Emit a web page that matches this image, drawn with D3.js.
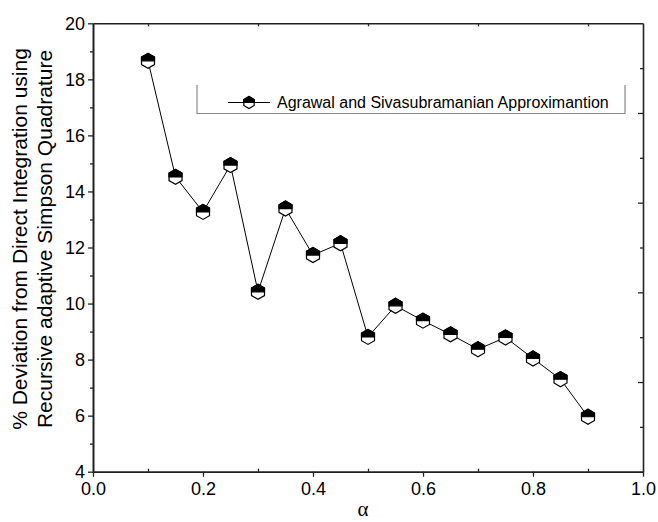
<!DOCTYPE html>
<html>
<head>
<meta charset="utf-8">
<script src="https://cdn.jsdelivr.net/npm/d3@7"></script>
<style>
  html, body { margin: 0; padding: 0; background: #fff; }
  svg { display: block; font-family: "Liberation Sans", Arial, sans-serif; }
</style>
</head>
<body>
<svg class="chart" width="658" height="522"></svg>
<script>
// data
const alphas = [0.1, 0.15, 0.2, 0.25, 0.3, 0.35, 0.4, 0.45, 0.5, 0.55, 0.6, 0.65, 0.7, 0.75, 0.8, 0.85, 0.9];
const deviations = [18.66, 14.52, 13.27, 14.94, 10.42, 13.39, 11.73, 12.15, 8.81, 9.92, 9.39, 8.9, 8.37, 8.79, 8.04, 7.3, 5.96];
const xTicks = [0, 0.2, 0.4, 0.6, 0.8, 1.0];
const xMinor = [0.1, 0.3, 0.5, 0.7, 0.9];
const yTicks = [4, 6, 8, 10, 12, 14, 16, 18, 20];
const yMinor = [5, 7, 9, 11, 13, 15, 17, 19];
const rightTicks = [0.1, 0.2, 0.3, 0.4, 0.5, 0.6, 0.7, 0.8, 0.9];
const seriesName = 'Agrawal and Sivasubramanian Approximantion';
const yLabel = ['% Deviation from Direct Integration using', 'Recursive adaptive Simpson Quadrature'];

const svg = d3.select('.chart');
const x = d3.scaleLinear().domain([0, 1]).range([93, 643]);
const y = d3.scaleLinear().domain([4, 20]).range([471.7, 23.3]);
const yRight = d3.scaleLinear().domain([0, 1]).range([471.7, 23.3]);

const axisColor = '#222';

function styleAxis(g, labels) {
  g.select('.domain').attr('stroke', axisColor).attr('stroke-width', 1.6);
  g.selectAll('.tick line').attr('stroke', axisColor).attr('stroke-width', 1.3);
  g.selectAll('.tick text')
    .attr('fill', '#000')
    .style('font-size', labels ? '18px' : '0px')
    .style('font-family', '"Liberation Sans", Arial, sans-serif');
}

// bottom axis
svg.append('g')
  .attr('transform', `translate(0,${y(4)})`)
  .call(d3.axisBottom(x).tickValues(xTicks).tickFormat(d3.format('.1f')).tickSizeInner(5).tickSizeOuter(0).tickPadding(6))
  .call(g => styleAxis(g, true));
svg.append('g')
  .attr('transform', `translate(0,${y(4)})`)
  .call(d3.axisBottom(x).tickValues(xMinor).tickFormat('').tickSizeInner(-3).tickSizeOuter(0))
  .call(g => styleAxis(g, false));

// top axis
svg.append('g')
  .attr('transform', `translate(0,${y(20)})`)
  .call(d3.axisTop(x).tickValues(xMinor).tickFormat('').tickSizeInner(-3).tickSizeOuter(0))
  .call(g => styleAxis(g, false));

// left axis
svg.append('g')
  .attr('transform', `translate(${x(0)},0)`)
  .call(d3.axisLeft(y).tickValues(yTicks).tickSizeInner(5).tickSizeOuter(0).tickPadding(3))
  .call(g => styleAxis(g, true));
svg.append('g')
  .attr('transform', `translate(${x(0)},0)`)
  .call(d3.axisLeft(y).tickValues(yMinor).tickFormat('').tickSizeInner(3).tickSizeOuter(0))
  .call(g => styleAxis(g, false));

// right axis (its own 10 divisions)
svg.append('g')
  .attr('transform', `translate(${x(1)},0)`)
  .call(d3.axisRight(yRight).tickValues(rightTicks).tickFormat('').tickSizeInner(-4).tickSizeOuter(0))
  .call(g => styleAxis(g, false))
  .call(g => g.selectAll('.tick line').attr('x2', (d, i) => (i % 2 ? -5 : -3)));

// axis titles
const yTitle = svg.append('text')
  .attr('transform', 'translate(27,239) rotate(-90)')
  .attr('text-anchor', 'middle')
  .style('font-size', '21px');
yTitle.selectAll('tspan')
  .data(yLabel)
  .enter()
  .append('tspan')
  .attr('x', 0)
  .attr('dy', (d, i) => (i === 0 ? 0 : 25))
  .text(d => d);

svg.append('text')
  .attr('x', 363)
  .attr('y', 516)
  .attr('text-anchor', 'middle')
  .style('font-family', '"Liberation Serif", "Times New Roman", serif')
  .style('font-size', '21px')
  .text('α');

// series
const points = alphas.map((a, i) => ({ a, v: deviations[i] }));

svg.append('path')
  .datum(points)
  .attr('fill', 'none')
  .attr('stroke', '#000')
  .attr('stroke-width', 1)
  .attr('d', d3.line().x(d => x(d.a)).y(d => y(d.v)));

function hexagon(r) {
  const c = r * Math.cos(Math.PI / 6);
  return {
    full: [[0, -r], [c, -r / 2], [c, r / 2], [0, r], [-c, r / 2], [-c, -r / 2]],
    top: [[-c, 0], [-c, -r / 2], [0, -r], [c, -r / 2], [c, 0]],
  };
}

function drawMarker(sel, r) {
  const h = hexagon(r);
  sel.append('polygon')
    .attr('points', h.full.map(p => p.join(',')).join(' '))
    .attr('fill', '#fff')
    .attr('stroke', '#000')
    .attr('stroke-width', 1.2);
  sel.append('polygon')
    .attr('points', h.top.map(p => p.join(',')).join(' '))
    .attr('fill', '#000')
    .attr('stroke', '#000')
    .attr('stroke-width', 1.2);
}

svg.append('g').selectAll('g')
  .data(points)
  .enter()
  .append('g')
  .attr('transform', d => `translate(${x(d.a)},${y(d.v)})`)
  .each(function () { drawMarker(d3.select(this), 7.5); });

// legend (box open at the top, as in the original)
const legend = svg.append('g');
legend.append('path')
  .attr('d', 'M197,85V113.5H625V85')
  .attr('fill', 'none')
  .attr('stroke', '#888')
  .attr('stroke-width', 1.2);
legend.append('line')
  .attr('x1', 228).attr('x2', 270)
  .attr('y1', 102.5).attr('y2', 102.5)
  .attr('stroke', '#000')
  .attr('stroke-width', 1.2);
legend.append('g')
  .attr('transform', 'translate(249,102.5)')
  .call(g => drawMarker(g, 6));
legend.append('text')
  .attr('x', 277)
  .attr('y', 108)
  .style('font-size', '16px')
  .text(seriesName);
</script>
</body>
</html>
